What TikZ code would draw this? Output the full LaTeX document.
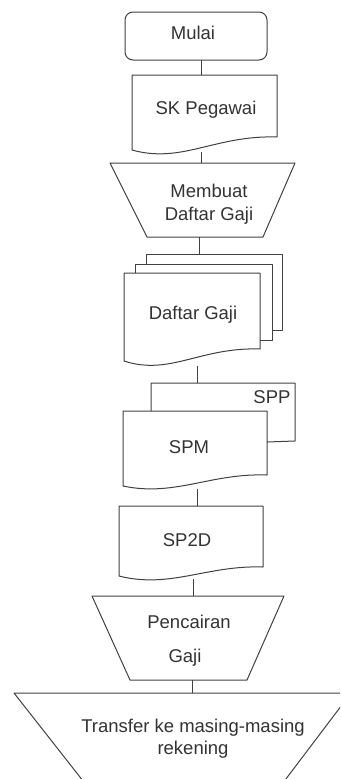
\documentclass[tikz,border=0pt]{standalone}
\usepackage{fontspec}
\setmainfont{Liberation Sans}
\usepackage{xcolor}
\usepackage{tikz}

\begin{document}
\begin{tikzpicture}[x=1pt, y=-1pt,
  shp/.style={draw=black!75, line width=1pt, line join=round},
  lbl/.style={font=\fontsize{18.5}{22}\selectfont, text=black!80, align=center, inner sep=0pt}]
\useasboundingbox (0,0) rectangle (340,779);
\clip (0,0) rectangle (340,779);

% Start
\draw[shp, rounded corners=8pt] (125,12) rectangle (267,60);
\node[lbl] (mulai) at (193,33) {Mulai};
\coordinate (mulai-s) at (201,60);

% SK Pegawai (document)
\draw[shp] (132,75) -- (277,75) -- (277,137) .. controls (215,135) and (182,164) .. (132,150) -- cycle;
\node[lbl] (sk) at (206,110) {SK Pegawai};
\coordinate (sk-n) at (201,75);
\coordinate (sk-s) at (201,152);

% Membuat Daftar Gaji (manual operation)
\draw[shp] (110,163) -- (295,163) -- (263,237) -- (147,237) -- cycle;
\node[lbl] (membuat) at (209,204) {Membuat\\[1pt]Daftar Gaji};
\coordinate (membuat-n) at (201,163);
\coordinate (membuat-s) at (199,237);

% Daftar Gaji (multi document)
\draw[shp] (146,264) -- (146,254) -- (282,254) -- (282,330) -- (272,330);
\draw[shp] (135,273) -- (135,264) -- (272,264) -- (272,340) -- (260,340);
\draw[shp] (124,273) -- (260,273) -- (260,349) .. controls (200,347) and (170,376) .. (124,361) -- cycle;
\node[lbl] (daftar) at (193,315) {Daftar Gaji};
\coordinate (daftar-n) at (199,254);
\coordinate (daftar-s) at (197,366);

% SPP behind SPM
\draw[shp] (151,411) -- (151,383) -- (295,383) -- (295,441) -- (267,442);
\node[lbl] (spp) at (272,397) {SPP};
\coordinate (spp-n) at (197,383);

% SPM (document)
\draw[shp] (123,411) -- (267,411) -- (267,475) .. controls (210,473) and (175,497) .. (123,486) -- cycle;
\node[lbl] (spm) at (189,447) {SPM};
\coordinate (spm-s) at (197,489);

% SP2D (document)
\draw[shp] (119,506) -- (263,506) -- (263,567) .. controls (207,565) and (170,589) .. (119,576) -- cycle;
\node[lbl] (sp2d) at (187,540) {SP2D};
\coordinate (sp2d-n) at (197,506);
\coordinate (sp2d-s) at (193,579);

% Pencairan Gaji (manual operation)
\draw[shp] (92,596) -- (284,596) -- (247,680) -- (130,680) -- cycle;
\node[lbl] (cair1) at (189,622) {Pencairan};
\node[lbl] (cair2) at (185,658) {Gaji};
\coordinate (cair-n) at (193,596);
\coordinate (cair-s) at (192,680);

% Transfer (manual operation, cut off at the bottom)
\draw[shp] (14,693) -- (351,693) -- (270,800) -- (98,800) -- cycle;
\node[lbl] (transfer) at (193,739) {Transfer ke masing-masing\\rekening};
\coordinate (transfer-n) at (192,693);

% Connectors
\draw[shp] (mulai-s) -- (sk-n);
\draw[shp] (sk-s) -- (membuat-n);
\draw[shp] (membuat-s) -- (daftar-n);
\draw[shp] (daftar-s) -- (spp-n);
\draw[shp] (spm-s) -- (sp2d-n);
\draw[shp] (sp2d-s) -- (cair-n);
\draw[shp] (cair-s) -- (transfer-n);
\end{tikzpicture}
\end{document}
